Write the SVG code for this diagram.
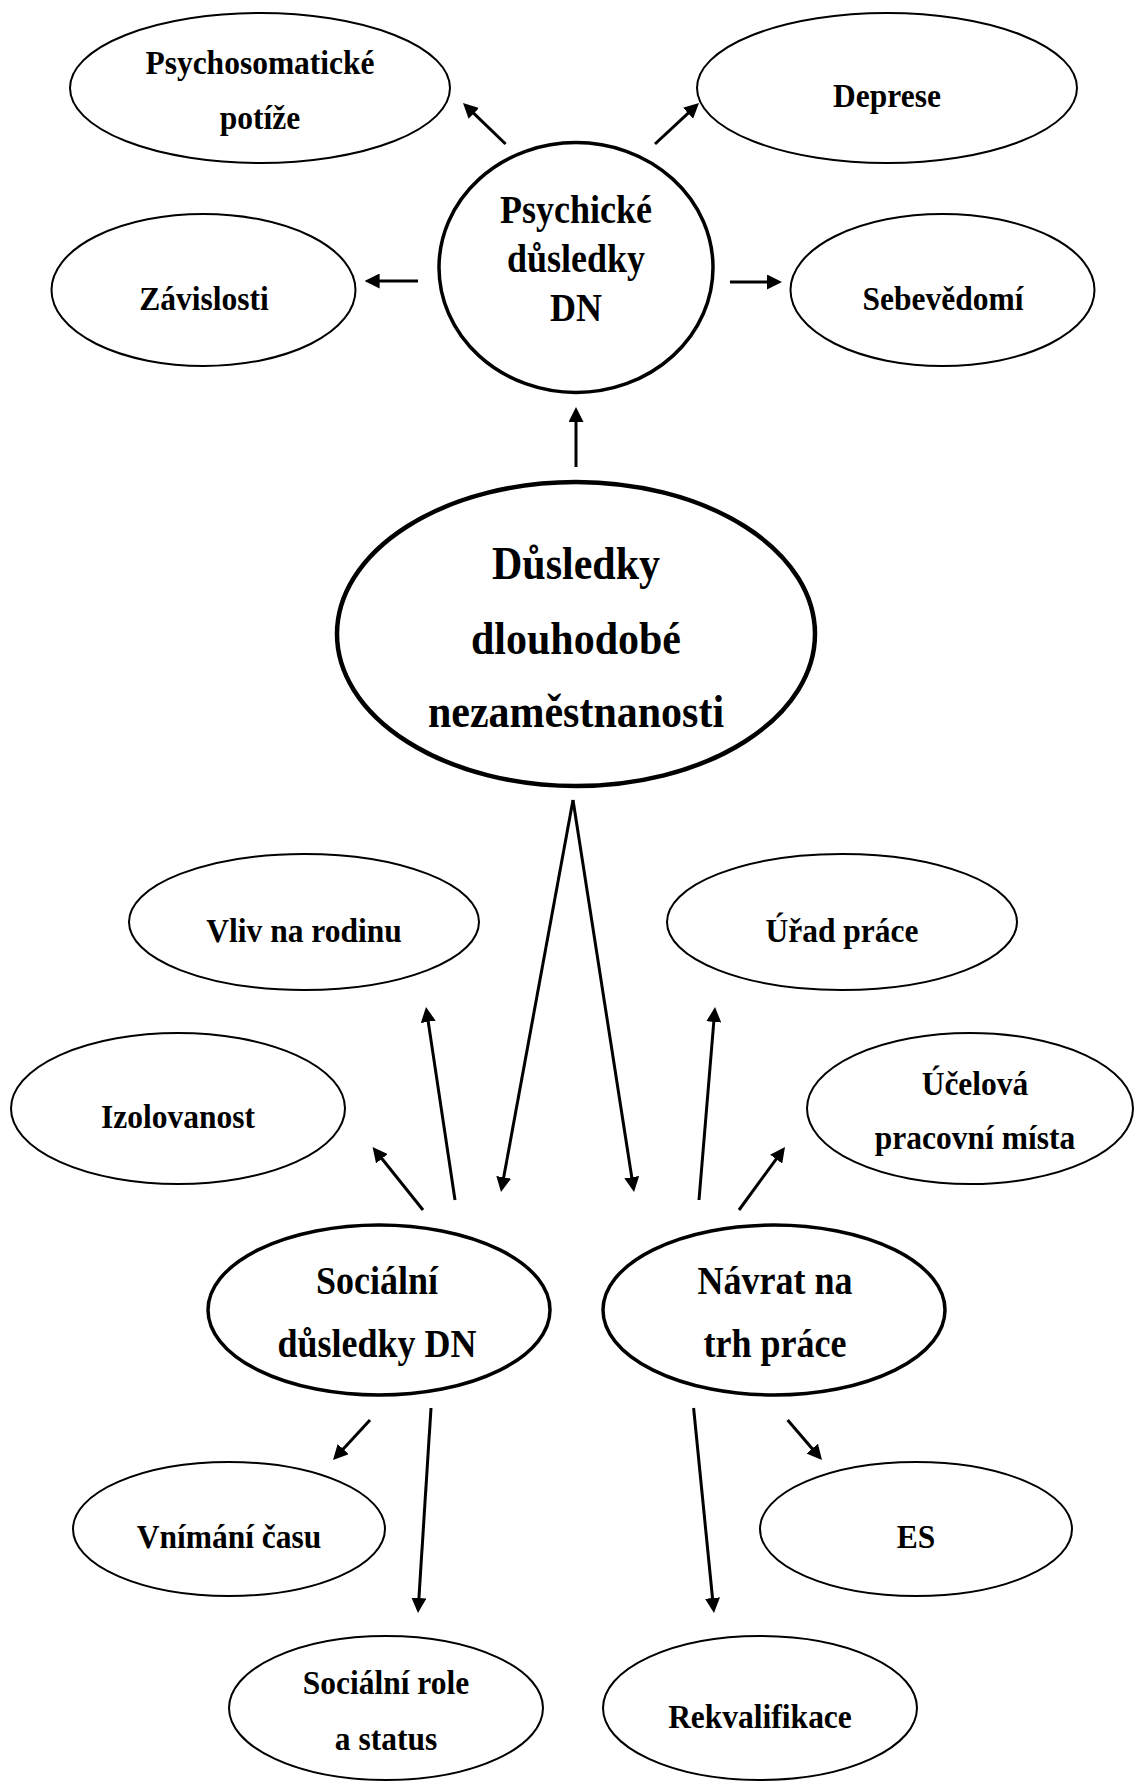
<svg xmlns="http://www.w3.org/2000/svg" width="1134" height="1782" viewBox="0 0 1134 1782">
<style>
  text { font-family: "Liberation Serif", "Times New Roman", serif; font-weight: bold; text-anchor: middle; fill: #000; transform-box: fill-box; transform-origin: 50% 50%; transform: scaleY(1.1); }
  .s { font-size: 31.5px; }
  .m { font-size: 36px; }
  .l { font-size: 42px; }
  ellipse { fill: #fff; stroke: #000; }
  .thin { stroke-width: 2; }
  .mid { stroke-width: 3.5; }
  .thick { stroke-width: 4.5; }
  #connectors line { stroke: #000; stroke-width: 3; marker-end: url(#arr); }
</style>
<defs>
  <marker id="arr" markerUnits="userSpaceOnUse" markerWidth="15" markerHeight="15" refX="5" refY="7.5" orient="auto" viewBox="0 0 15 15">
    <path d="M0,0 L15,7.5 L0,15 z" fill="#000"/>
  </marker>
</defs>
<rect width="1134" height="1782" fill="#fff"/>

<g id="connectors">
  <line x1="505.6" y1="144" x2="470.2" y2="109.9"/>
  <line x1="655" y1="144" x2="691.7" y2="109.8"/>
  <line x1="418" y1="281" x2="374.6" y2="281"/>
  <line x1="730" y1="282" x2="772" y2="282"/>
  <line x1="576" y1="467" x2="576" y2="417"/>
  <line x1="573" y1="800" x2="502.8" y2="1182.2"/>
  <line x1="573" y1="800" x2="632.5" y2="1182.1"/>
  <line x1="455" y1="1200" x2="427.5" y2="1016.9"/>
  <line x1="423" y1="1210" x2="378.8" y2="1154.8"/>
  <line x1="699" y1="1200" x2="714.2" y2="1017"/>
  <line x1="739" y1="1210" x2="779.1" y2="1155.1"/>
  <line x1="370" y1="1420" x2="339.8" y2="1452.7"/>
  <line x1="431" y1="1408" x2="418.6" y2="1603"/>
  <line x1="693.6" y1="1408" x2="713" y2="1603"/>
  <line x1="787.6" y1="1420" x2="815.5" y2="1452.4"/>
</g>

<g id="psychosomaticke">
  <ellipse class="thin" cx="260" cy="88" rx="190" ry="75"/>
  <text class="s" x="260" y="73">Psychosomatické</text>
  <text class="s" x="260" y="128">potíže</text>
</g>
<g id="deprese">
  <ellipse class="thin" cx="887" cy="88" rx="190" ry="75"/>
  <text class="s" x="887" y="106">Deprese</text>
</g>
<g id="zavislosti">
  <ellipse class="thin" cx="203.5" cy="290" rx="152" ry="76"/>
  <text class="s" x="204" y="309">Závislosti</text>
</g>
<g id="sebevedomi">
  <ellipse class="thin" cx="942.5" cy="290" rx="152" ry="76"/>
  <text class="s" x="943" y="309">Sebevědomí</text>
</g>
<g id="psychicke">
  <ellipse class="mid" cx="576" cy="267.5" rx="137" ry="125"/>
  <text class="m" x="576" y="222">Psychické</text>
  <text class="m" x="576" y="271">důsledky</text>
  <text class="m" x="576" y="320">DN</text>
</g>
<g id="hlavni">
  <ellipse class="thick" cx="576" cy="634" rx="239" ry="152"/>
  <text class="l" x="576" y="578">Důsledky</text>
  <text class="l" x="576" y="653">dlouhodobé</text>
  <text class="l" x="576" y="726">nezaměstnanosti</text>
</g>
<g id="vliv">
  <ellipse class="thin" cx="304" cy="922" rx="175" ry="68"/>
  <text class="s" x="304" y="941">Vliv na rodinu</text>
</g>
<g id="urad">
  <ellipse class="thin" cx="842" cy="922" rx="175" ry="68"/>
  <text class="s" x="842" y="941">Úřad práce</text>
</g>
<g id="izolovanost">
  <ellipse class="thin" cx="178" cy="1108.5" rx="167" ry="75.5"/>
  <text class="s" x="178" y="1127">Izolovanost</text>
</g>
<g id="ucelova">
  <ellipse class="thin" cx="970" cy="1108.5" rx="163" ry="75.5"/>
  <text class="s" x="975" y="1094">Účelová</text>
  <text class="s" x="975" y="1148">pracovní místa</text>
</g>
<g id="socialni">
  <ellipse class="mid" cx="379" cy="1310" rx="171" ry="85"/>
  <text class="m" x="377" y="1293">Sociální</text>
  <text class="m" x="377" y="1356">důsledky DN</text>
</g>
<g id="navrat">
  <ellipse class="mid" cx="774" cy="1310" rx="171" ry="85"/>
  <text class="m" x="775" y="1293">Návrat na</text>
  <text class="m" x="775" y="1356">trh práce</text>
</g>
<g id="vnimani">
  <ellipse class="thin" cx="229" cy="1529" rx="156" ry="67"/>
  <text class="s" x="229" y="1547">Vnímání času</text>
</g>
<g id="es">
  <ellipse class="thin" cx="916" cy="1529" rx="156" ry="67"/>
  <text class="s" x="916" y="1547">ES</text>
</g>
<g id="role">
  <ellipse class="thin" cx="386" cy="1708" rx="157" ry="72"/>
  <text class="s" x="386" y="1693">Sociální role</text>
  <text class="s" x="386" y="1749">a status</text>
</g>
<g id="rekvalifikace">
  <ellipse class="thin" cx="760" cy="1708" rx="157" ry="72"/>
  <text class="s" x="760" y="1727">Rekvalifikace</text>
</g>
</svg>
